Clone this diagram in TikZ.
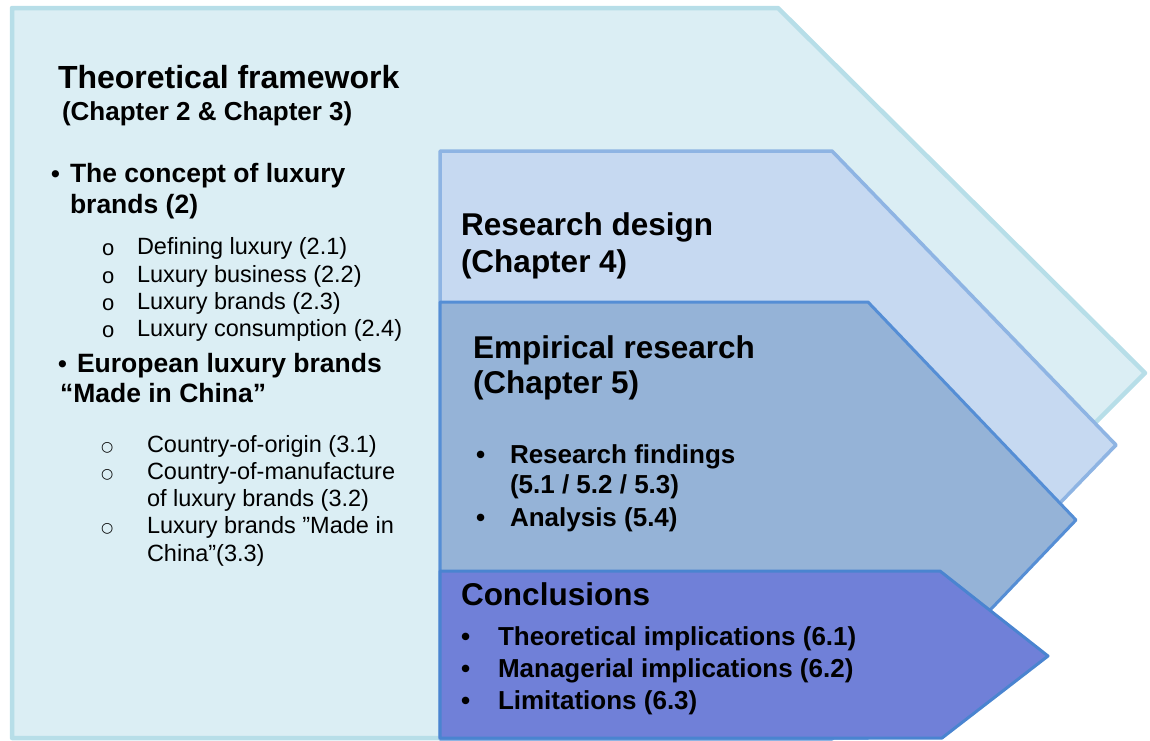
\documentclass[tikz,border=0pt]{standalone}
\usepackage{fontspec}
\setmainfont{Liberation Sans}
\newfontfamily\symfont{DejaVu Sans}

\definecolor{theoFill}{HTML}{DBEEF4}
\definecolor{theoLine}{HTML}{B7DEE8}
\definecolor{designFill}{HTML}{C6D9F1}
\definecolor{designLine}{HTML}{8EB4E3}
\definecolor{empFill}{HTML}{95B3D7}
\definecolor{empLine}{HTML}{558ED5}
\definecolor{conclFill}{HTML}{7080D8}
\definecolor{conclLine}{HTML}{4A84D0}

\tikzset{
  panel/.style={line join=round},
  txt/.style={anchor=base west, inner sep=0pt, outer sep=0pt, text=black},
  title/.style={txt, font=\fontsize{32}{38}\selectfont\bfseries},
  chapter/.style={txt, font=\fontsize{26}{31}\selectfont\bfseries},
  head/.style={txt, font=\fontsize{26.5}{31}\selectfont\bfseries},
  dot/.style={txt, font=\fontsize{25}{30}\selectfont\bfseries},
  item/.style={txt, font=\fontsize{23.5}{28}\selectfont},
  stage/.style={txt, font=\fontsize{31.5}{37}\selectfont\bfseries},
  point/.style={txt, font=\fontsize{26}{31}\selectfont\bfseries},
  smallo/.style={txt, font=\fontsize{22}{26}\selectfont},
  ring/.style={txt, font=\fontsize{14}{17}\selectfont\symfont},
}

\begin{document}
\begin{tikzpicture}[x=1pt, y=-1pt]
\useasboundingbox (0,0) rectangle (1150,740);

% stacked chevron panels, back to front
\draw[panel, fill=theoFill, draw=theoLine, line width=4.5pt]
  (12,8) -- (778,8) -- (1145,373) -- (780,738) -- (12,738) -- cycle;
\draw[panel, fill=designFill, draw=designLine, line width=3.5pt]
  (440,151) -- (832,151) -- (1116,445) -- (832,739) -- (440,739) -- cycle;
\draw[panel, fill=empFill, draw=empLine, line width=3pt]
  (440,302) -- (868,302) -- (1076,520) -- (868,738) -- (440,738) -- cycle;
\draw[panel, fill=conclFill, draw=conclLine, line width=3pt]
  (440,571) -- (940,571) -- (1048,656) -- (942,738) -- (440,738) -- cycle;

% theoretical framework
\node[title]   (tf)    at (58,88)  {Theoretical framework};
\node[chapter] (tfch)  at (62,120) {(Chapter 2 \& Chapter 3)};

\node[dot]  (b1)  at (51,182) {•};
\node[head] (h1a) at (70,182) {The concept of luxury};
\node[head] (h1b) at (70,213) {brands (2)};

\node[smallo] (o1) at (102,255) {o};
\node[smallo] (o2) at (102,283) {o};
\node[smallo] (o3) at (102,310) {o};
\node[smallo] (o4) at (102,337) {o};
\node[item] (s1) at (137,254) {Defining luxury (2.1)};
\node[item] (s2) at (137,282) {Luxury business (2.2)};
\node[item] (s3) at (137,309) {Luxury brands (2.3)};
\node[item] (s4) at (137,336) {Luxury consumption (2.4)};

\node[dot]  (b2)  at (58,372) {•};
\node[head] (h2a) at (77,372) {European luxury brands};
\node[head] (h2b) at (60,402) {“Made in China”};

\node[ring] (r1) at (101,451) {○};
\node[ring] (r2) at (101,478) {○};
\node[ring] (r3) at (101,532) {○};
\node[item] (t1)  at (147,452) {Country-of-origin (3.1)};
\node[item] (t2a) at (147,479) {Country-of-manufacture};
\node[item] (t2b) at (147,506) {of luxury brands (3.2)};
\node[item] (t3a) at (147,533) {Luxury brands ”Made in};
\node[item] (t3b) at (147,561) {China”(3.3)};

% research design
\node[stage] (rd)   at (461,235) {Research design};
\node[stage] (rdch) at (461,272) {(Chapter 4)};

% empirical research
\node[stage] (er)   at (473,358) {Empirical research};
\node[stage] (erch) at (473,393) {(Chapter 5)};
\node[point] (eb1)  at (476,463) {•};
\node[point] (ep1a) at (510,463) {Research findings};
\node[point] (ep1b) at (510,493) {(5.1 / 5.2 / 5.3)};
\node[point] (eb2)  at (476,526) {•};
\node[point] (ep2)  at (510,526) {Analysis (5.4)};

% conclusions
\node[stage] (cc)  at (461,605) {Conclusions};
\node[point] (cb1) at (461,645) {•};
\node[point] (cp1) at (498,645) {Theoretical implications (6.1)};
\node[point] (cb2) at (461,677) {•};
\node[point] (cp2) at (498,677) {Managerial implications (6.2)};
\node[point] (cb3) at (461,709) {•};
\node[point] (cp3) at (498,709) {Limitations (6.3)};
\end{tikzpicture}
\end{document}
